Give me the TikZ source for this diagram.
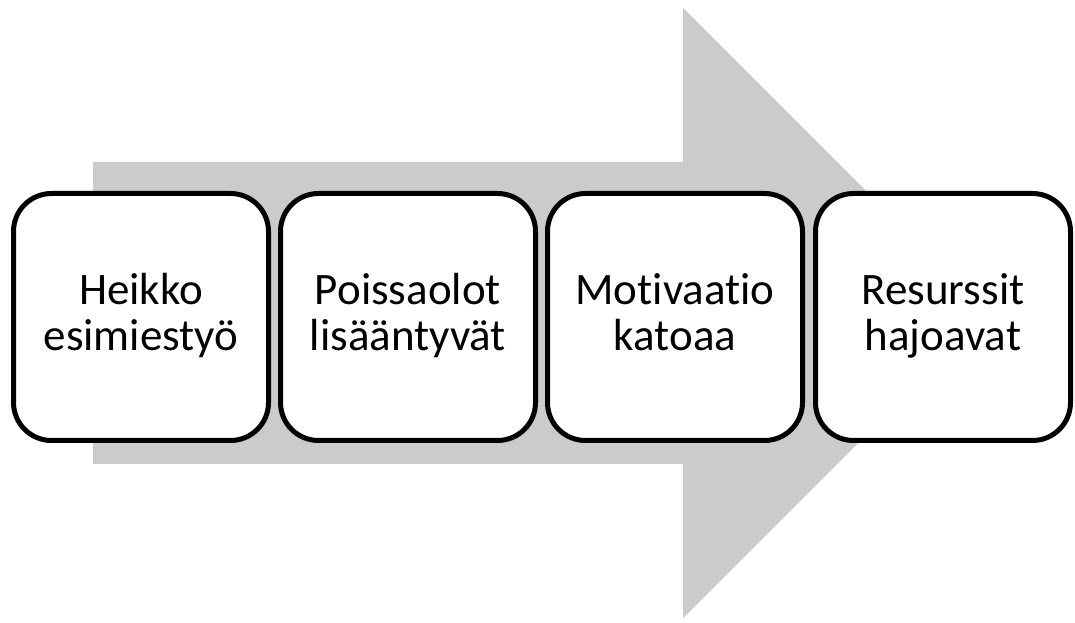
\documentclass[tikz,border=0pt]{standalone}
\usepackage{fontspec}
\setmainfont{Carlito}[Ligatures={NoCommon}]
\definecolor{arrowgray}{RGB}{203,203,203}
% fixed line heights so every two-line label sits at the same place
\newcommand{\toprule}{\rule{0pt}{27pt}}
\newcommand{\botrule}{\rule[-10.5pt]{0pt}{10.5pt}}
\tikzset{
  stepbox/.style={draw=black, fill=white, line width=3.75pt, rounded corners=28.5pt,
    minimum width=191.25pt, minimum height=185.25pt, inner sep=0pt, align=center,
    font=\fontsize{33.75pt}{34.5pt}\selectfont}
}
\begin{document}
\begin{tikzpicture}[x=0.75pt,y=-0.75pt]
\useasboundingbox (0,0) rectangle (1075,623);
% big background arrow
\fill[arrowgray] (93,162) -- (683,162) -- (683,8) -- (988,313) -- (683,618)
  -- (683,464) -- (93,464) -- cycle;
% process steps
\node[stepbox] (s1) at (141,317) {\toprule Heikko\\esimiestyö\botrule};
\node[stepbox] (s2) at (408,317) {\toprule Poissaolot\\lisääntyvät\botrule};
\node[stepbox] (s3) at (675,317) {\toprule Motivaatio\\katoaa\botrule};
\node[stepbox] (s4) at (943,317) {\toprule Resurssit\\hajoavat\botrule};
\end{tikzpicture}
\end{document}
